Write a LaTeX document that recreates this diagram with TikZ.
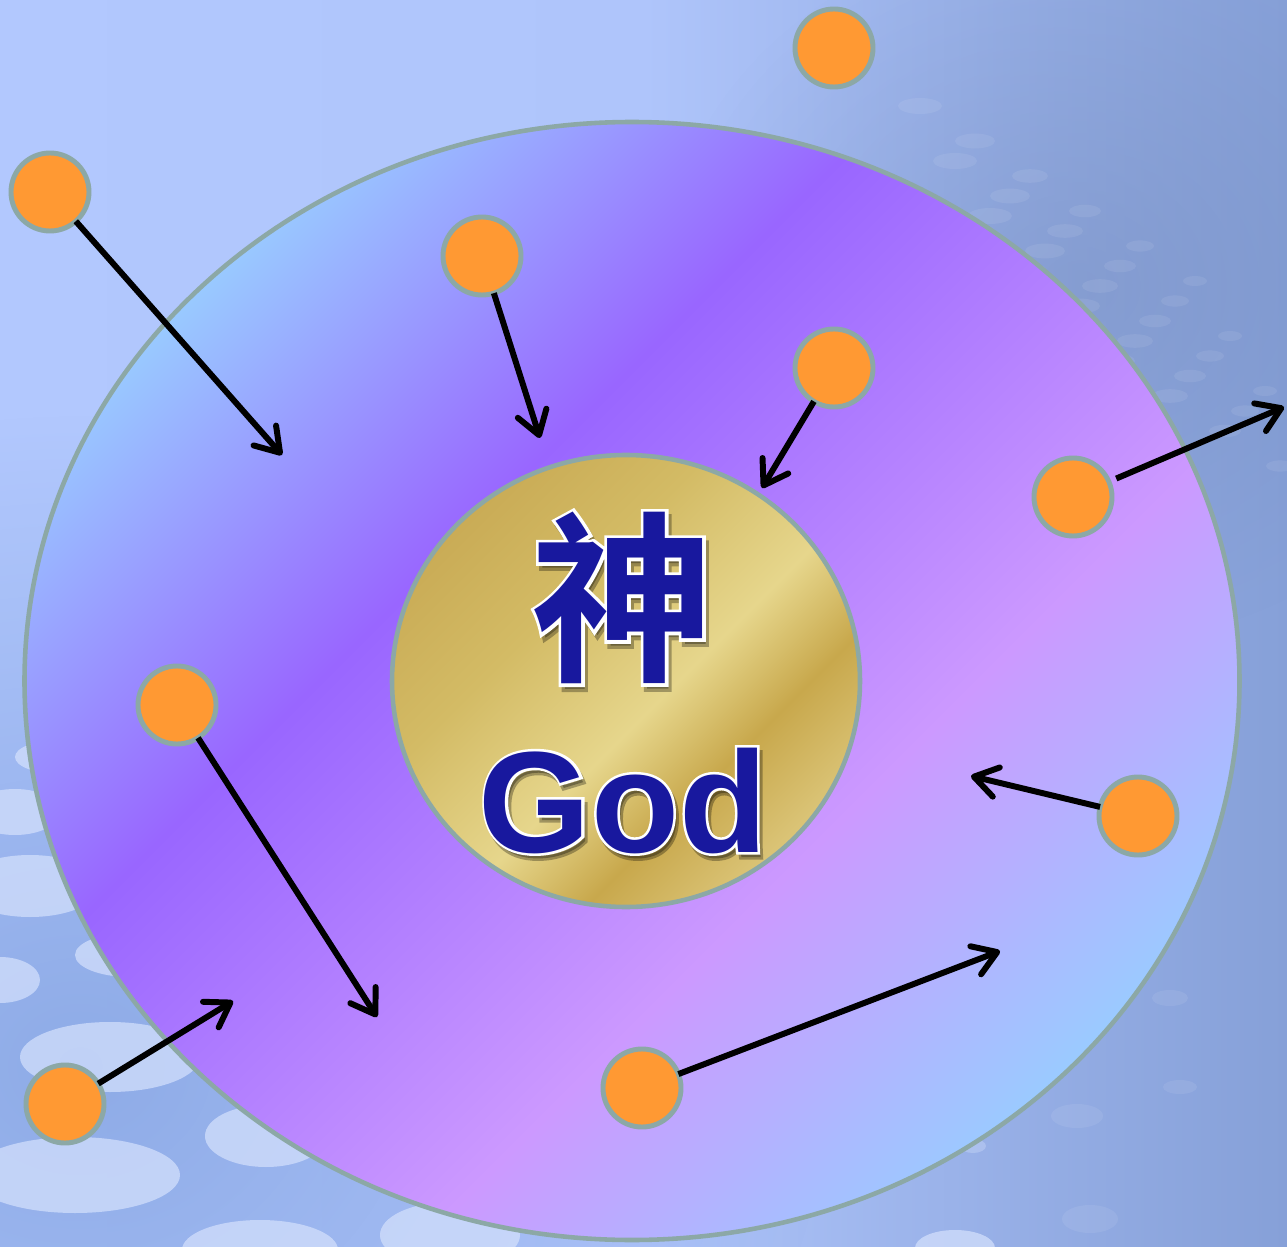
\documentclass[tikz,border=0pt]{standalone}
\usepackage{fontspec}
\setmainfont{Liberation Sans}
\newfontfamily\cjk{Noto Sans CJK SC}[UprightFont=* Bold]
\newfontfamily\cjkrim{Noto Sans CJK SC}[UprightFont=* Bold, FakeBold=3.5]
\newfontfamily\godfont{Liberation Sans}[UprightFont=* Bold]
\newfontfamily\godrim{Liberation Sans}[UprightFont=* Bold, FakeBold=3.5]
\usepackage{tikz}
\usetikzlibrary{arrows.meta, shadings, fadings}

\definecolor{skyband}{HTML}{99CCFF}
\definecolor{violetband}{HTML}{9966FF}
\definecolor{lilac}{HTML}{CC99FF}
\definecolor{rim}{HTML}{8CA8A6}
\definecolor{soulfill}{HTML}{FF9933}
\definecolor{godblue}{HTML}{18189E}
\definecolor{golddark}{HTML}{C9AB55}
\definecolor{goldmid}{HTML}{D3BB65}
\definecolor{goldlight}{HTML}{E6D68C}
\definecolor{goldlow}{HTML}{C8A84C}
\definecolor{goldsoft}{HTML}{DCC67A}
\definecolor{bgleft}{HTML}{B2C8FE}
\definecolor{bgmid}{HTML}{AFC5FB}
\definecolor{bgright}{HTML}{86A0D8}
\definecolor{bgdeep}{HTML}{8AA8E4}
\definecolor{bgspot}{HTML}{D2DFFC}

\pgfdeclarehorizontalshading{sky}{100bp}{color(0bp)=(bgleft); color(25bp)=(bgleft);
  color(50bp)=(bgmid); color(64bp)=(bgright!60!bgmid); color(75bp)=(bgright); color(100bp)=(bgright)}
\pgfdeclarehorizontalshading{spirit}{100bp}{color(0bp)=(skyband); color(26bp)=(skyband);
  color(41bp)=(violetband); color(60bp)=(lilac); color(74bp)=(skyband); color(100bp)=(skyband)}
\pgfdeclarehorizontalshading{gold}{100bp}{color(0bp)=(golddark); color(25bp)=(golddark);
  color(39bp)=(goldmid); color(54bp)=(goldlight); color(64bp)=(goldlow); color(75bp)=(goldsoft); color(100bp)=(goldsoft)}
\tikzfading[name=softdisc, inner color=transparent!0, outer color=transparent!100]

\tikzset{
  soul/.style={circle, draw=rim, line width=1.4pt, fill=soulfill, minimum size=0.78cm, inner sep=0pt, outer sep=0pt},
  pull/.style={line width=1.7pt, -{Straight Barb[round, length=2.3mm, width=3mm]}},
  spot/.style={fill=bgspot, opacity=0.75},
  dimspot/.style={fill=white, opacity=0.08}
}

\begin{document}
\begin{tikzpicture}
\useasboundingbox (0,0) rectangle (12.87,12.46);
\clip (0,0) rectangle (12.87,12.46);
% background
\shade[shading=sky] (0,0) rectangle (12.87,12.46);
\fill[bgdeep, opacity=0.9, path fading=softdisc] (0.8,1.8) ellipse (7.5 and 6.5);
\fill[bgright!85!black, opacity=0.4, path fading=softdisc] (10.8,9.6) ellipse (4.2 and 3.6);
\fill[spot] (0.60,4.89) ellipse (0.45 and 0.17);
\fill[spot] (0.15,4.34) ellipse (0.45 and 0.23);
\fill[spot] (0.30,3.60) ellipse (0.70 and 0.31);
\fill[spot] (1.30,2.91) ellipse (0.55 and 0.22);
\fill[spot] (0.00,2.66) ellipse (0.40 and 0.23);
\fill[spot] (1.10,1.89) ellipse (0.90 and 0.35);
\fill[spot] (0.75,0.71) ellipse (1.05 and 0.38);
\fill[spot] (2.66,1.10) ellipse (0.61 and 0.31);
\fill[spot] (2.60,-0.04) ellipse (0.78 and 0.30);
\fill[spot] (4.50,0.11) ellipse (0.70 and 0.33);
\fill[spot] (9.55,-0.02) ellipse (0.40 and 0.18);
\fill[spot, opacity=0.35] (9.73,1.00) ellipse (0.13 and 0.07);
\foreach \i in {0,...,5}
  \foreach \j in {0,...,4}
    \fill[dimspot] (9.2+0.55*\i+0.35*\j, 11.4-0.35*\i-0.55*\j) ellipse ({0.22-0.02*\i} and {0.08-0.006*\i});
\fill[dimspot] (11.70,2.48) ellipse (0.18 and 0.08);
\fill[dimspot] (10.77,1.30) ellipse (0.26 and 0.12);
\fill[dimspot] (11.80,1.59) ellipse (0.17 and 0.07);
\fill[dimspot] (10.90,0.27) ellipse (0.28 and 0.14);

% outer region
\begin{scope}
\clip (6.32,5.65) ellipse (6.075 and 5.59);
\shade[shading=spirit, shading angle=-45] (0.12,-0.55) rectangle (12.52,11.85);
\end{scope}
\draw[rim, line width=1.3pt] (6.32,5.65) ellipse (6.075 and 5.59);

% centre
\begin{scope}
\clip (6.26,5.65) ellipse (2.34 and 2.26);
\shade[shading=gold, shading angle=-45] (3.91,3.30) rectangle (8.61,8.00);
\end{scope}
\draw[rim, line width=1.3pt] (6.26,5.65) ellipse (2.34 and 2.26);

\node[font=\cjkrim\fontsize{52}{52}\selectfont, text=black, opacity=0.3] (shenshade) at (6.26,6.43) {神};
\node[font=\cjkrim\fontsize{52}{52}\selectfont, text=white] (shenrim) at (6.23,6.48) {神};
\node[font=\cjk\fontsize{52}{52}\selectfont, text=godblue] (shen) at (6.23,6.48) {神};
\node[font=\godrim\fontsize{41}{41}\selectfont, text=black, opacity=0.3, anchor=base] (godshade) at (6.26,3.89) {God};
\node[font=\godrim\fontsize{41}{41}\selectfont, text=white, anchor=base] (godrimtext) at (6.23,3.94) {God};
\node[font=\godfont\fontsize{41}{41}\selectfont, text=godblue, anchor=base] (god) at (6.23,3.94) {God};

% souls
\node[soul] (s1) at (8.34,11.98) {};
\node[soul] (s2) at (0.50,10.54) {};
\node[soul] (s3) at (4.82,9.90) {};
\node[soul] (s4) at (8.34,8.78) {};
\node[soul] (s5) at (10.73,7.49) {};
\node[soul] (s6) at (1.77,5.41) {};
\node[soul] (s7) at (11.38,4.30) {};
\node[soul] (s8) at (0.65,1.42) {};
\node[soul] (s9) at (6.42,1.58) {};

\coordinate (t2) at (2.82,7.91);
\coordinate (t3) at (5.40,8.08);
\coordinate (t4) at (7.62,7.58);
\coordinate (t5) at (12.84,8.39);
\coordinate (t6) at (3.77,2.29);
\coordinate (t7) at (9.71,4.70);
\coordinate (t8) at (2.33,2.45);
\coordinate (t9) at (10.00,2.95);

\draw[pull] (s2) -- (t2);
\draw[pull] (s3) -- (t3);
\draw[pull] (s4) -- (t4);
\draw[pull, shorten <=0.08cm] (s5) -- (t5);
\draw[pull] (s6) -- (t6);
\draw[pull] (s7) -- (t7);
\draw[pull] (s8) -- (t8);
\draw[pull] (s9) -- (t9);
\end{tikzpicture}
\end{document}
